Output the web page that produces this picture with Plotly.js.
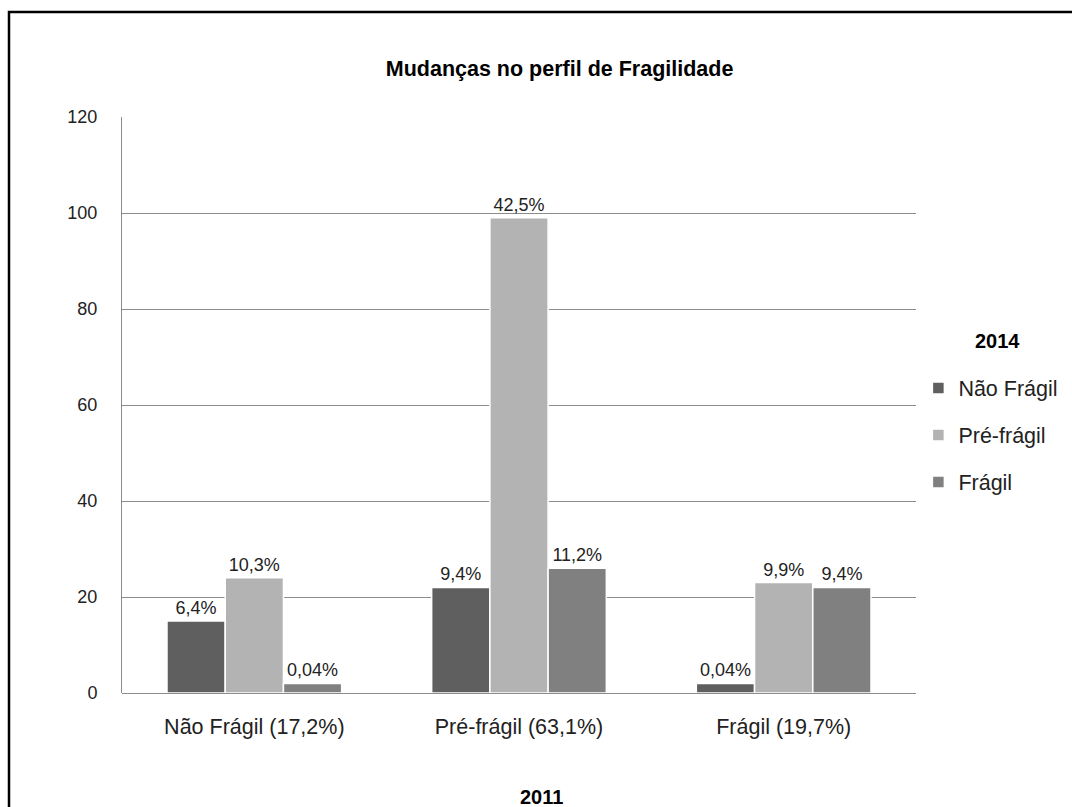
<!DOCTYPE html>
<html>
<head>
<meta charset="utf-8">
<script src="https://cdn.plot.ly/plotly-3.0.1.min.js"></script>
<style>html,body{margin:0;padding:0;background:#fff;}#chart{width:1072px;height:807px;}</style>
</head>
<body>
<div id="chart"></div>
<script>
// Categories (2011 profile) and series (2014 profile)
var categories = ["Não Frágil (17,2%)", "Pré-frágil (63,1%)", "Frágil (19,7%)"];
var seriesNames = ["Não Frágil", "Pré-frágil", "Frágil"];
var naoFragil = [15, 22, 2];
var preFragil = [24, 99, 23];
var fragil = [2, 26, 22];
var labelsNaoFragil = ["6,4%", "9,4%", "0,04%"];
var labelsPreFragil = ["10,3%", "42,5%", "9,9%"];
var labelsFragil = ["0,04%", "11,2%", "9,4%"];
var yTicks = [0, 20, 40, 60, 80, 100, 120];

var colors = ["#5f5f5f", "#b3b3b3", "#808080"];
var FONT = "Liberation Sans, Arial, sans-serif";

function mk(name, vals, labels, color, grp) {
  return {
    type: "bar", name: name, x: categories, y: vals,
    text: labels, textposition: "outside", cliponaxis: false,
    textfont: {family: FONT, size: 18, color: "#222"},
    marker: {color: color, line: {color: "#ffffff", width: 1.5}},
    legendgroup: grp, hoverinfo: "x+y+name"
  };
}

var data = [
  mk(seriesNames[0], naoFragil, labelsNaoFragil, colors[0], "g1"),
  mk(seriesNames[1], preFragil, labelsPreFragil, colors[1], "g2"),
  mk(seriesNames[2], fragil, labelsFragil, colors[2], "g3")
];

var layout = {
  width: 1072, height: 807,
  margin: {l: 122, r: 156, t: 117, b: 114, autoexpand: false},
  paper_bgcolor: "#fff", plot_bgcolor: "#fff",
  font: {family: FONT, color: "#222"},
  title: {text: "<b>Mudanças no perfil de Fragilidade</b>", font: {family: FONT, size: 21.5, color: "#000"},
          x: 0.522, xref: "container", xanchor: "center", y: 1 - 68/807, yref: "container", yanchor: "middle"},
  barmode: "group", bargap: 0.34, bargroupgap: 0,
  xaxis: {
    type: "category", showgrid: false, zeroline: false,
    showline: false, ticks: "", ticklabelstandoff: 18,
    tickfont: {family: FONT, size: 21.5, color: "#222"}
  },
  yaxis: {
    range: [0, 120], tickvals: yTicks, ticktext: yTicks.map(String),
    showgrid: true, gridcolor: "#8c8c8c", gridwidth: 1,
    zeroline: true, zerolinecolor: "#8c8c8c", zerolinewidth: 1,
    showline: true, linecolor: "#8c8c8c", linewidth: 1,
    ticks: "", ticklabelstandoff: 20,
    tickfont: {family: FONT, size: 18, color: "#222"}
  },
  showlegend: true,
  legend: {
    x: 1.003, xanchor: "left", y: 0.565, yanchor: "top",
    traceorder: "grouped", tracegroupgap: 16,
    font: {family: FONT, size: 21.5, color: "#222"},
    bgcolor: "rgba(0,0,0,0)", itemwidth: 30
  },
  annotations: [
    {text: "<b>2014</b>", xref: "paper", yref: "paper", x: (997-122)/794, y: (693-341)/576,
     xanchor: "center", yanchor: "middle", showarrow: false, font: {family: FONT, size: 20, color: "#000"}},
    {text: "<b>2011</b>", xref: "paper", yref: "paper", x: (541-122)/794, y: -(797-693)/576,
     xanchor: "center", yanchor: "middle", showarrow: false, font: {family: FONT, size: 20, color: "#000"}}
  ],
  shapes: [
    {type: "rect", xref: "paper", yref: "paper",
     x0: (9-122)/794, x1: (1090-122)/794, y0: -(830-693)/576, y1: (693-12)/576,
     line: {color: "#000", width: 2.5}, fillcolor: "rgba(0,0,0,0)", layer: "below"}
  ]
};

Plotly.newPlot("chart", data, layout, {displayModeBar: false, staticPlot: true});
</script>
</body>
</html>
